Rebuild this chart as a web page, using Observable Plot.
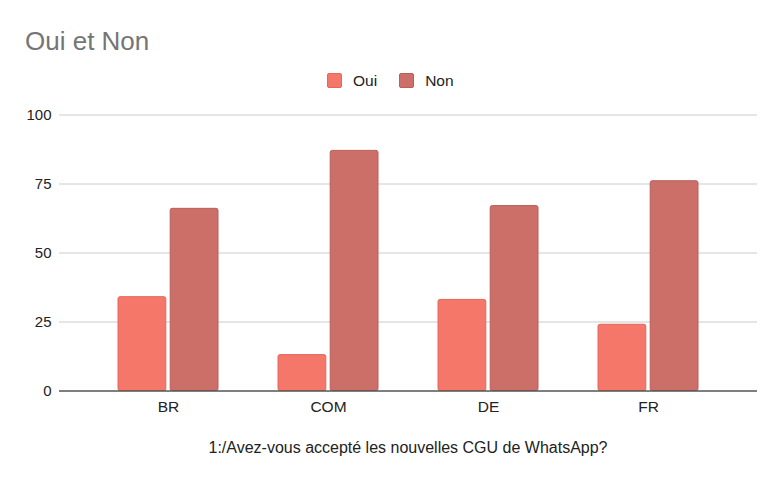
<!DOCTYPE html>
<html>
<head>
<meta charset="utf-8">
<script src="https://cdn.jsdelivr.net/npm/d3@7"></script>
<script src="https://cdn.jsdelivr.net/npm/@observablehq/plot@0.6"></script>
<style>
  html, body { margin: 0; padding: 0; background: #fff; }
  #wrap { position: relative; width: 782px; height: 483px; font-family: "Liberation Sans", Arial, sans-serif; overflow: hidden; }
  #title { position: absolute; left: 25px; top: 25px; font-size: 26px; line-height: 32px; color: #757575; }
  #legend { position: absolute; left: 327px; top: 73px; height: 15px; display: flex; align-items: center; font-size: 15.5px; color: #222; }
  .sw { width: 15px; height: 15px; border-radius: 2px; box-sizing: border-box; border: 1px solid; margin-right: 11px; }
  .lab { margin-right: 22px; }
  #chart { position: absolute; left: 0; top: 100px; }
  #caption { position: absolute; left: 59px; width: 698px; top: 438px; text-align: center; font-size: 16px; line-height: 20px; color: #222; }
</style>
</head>
<body>
<div id="wrap">
  <div id="title">Oui et Non</div>
  <div id="legend"></div>
  <div id="chart"></div>
  <div id="caption"></div>
</div>
<script>
const categories = ["BR", "COM", "DE", "FR"];
const ouiValues = [34, 13, 33, 24];
const nonValues = [66, 87, 67, 76];
const seriesNames = ["Oui", "Non"];
const yTicks = [0, 25, 50, 75, 100];
const titleText = "Oui et Non";
const captionText = "1:/Avez-vous accepté les nouvelles CGU de WhatsApp?";

const fills = { Oui: "#f4776a", Non: "#cc6f68" };
const strokes = { Oui: "#e5665a", Non: "#b95e58" };

const ouiRows = categories.map((c, i) => ({ cat: c, series: "Oui", value: ouiValues[i] }));
const nonRows = categories.map((c, i) => ({ cat: c, series: "Non", value: nonValues[i] }));

document.getElementById("title").textContent = titleText;
document.getElementById("caption").textContent = captionText;

const legend = document.getElementById("legend");
for (const s of seriesNames) {
  const sw = document.createElement("div");
  sw.className = "sw";
  sw.style.background = fills[s];
  sw.style.borderColor = strokes[s];
  const lab = document.createElement("div");
  lab.className = "lab";
  lab.textContent = s;
  legend.appendChild(sw);
  legend.appendChild(lab);
}

const plot = Plot.plot({
  width: 782,
  height: 330,
  marginLeft: 59,
  marginRight: 25,
  marginTop: 14.5,
  marginBottom: 39.5,
  style: { fontFamily: "'Liberation Sans', Arial, sans-serif", fontSize: "15px", color: "#222", background: "transparent" },
  x: { domain: categories, paddingInner: 0, paddingOuter: 0.175, label: null },
  y: { domain: [0, 100], label: null },
  marks: [
    Plot.gridY(yTicks.filter(t => t > 0), { stroke: "#cccccc", strokeOpacity: 1, strokeWidth: 1 }),
    Plot.axisY({ ticks: yTicks, tickSize: 0, tickPadding: 8, fontSize: 15, label: null }),
    Plot.barY(ouiRows, { x: "cat", y: "value", fill: fills.Oui, stroke: strokes.Oui, strokeWidth: 1, rx: 2, insetLeft: 30, insetRight: 82.2 }),
    Plot.barY(nonRows, { x: "cat", y: "value", fill: fills.Non, stroke: strokes.Non, strokeWidth: 1, rx: 2, insetLeft: 82.2, insetRight: 30 }),
    Plot.ruleY([0], { stroke: "#555", strokeWidth: 1.3 }),
    Plot.axisX({ tickSize: 0, tickPadding: 10, fontSize: 15.5, label: null })
  ]
});
document.getElementById("chart").appendChild(plot);
</script>
</body>
</html>
